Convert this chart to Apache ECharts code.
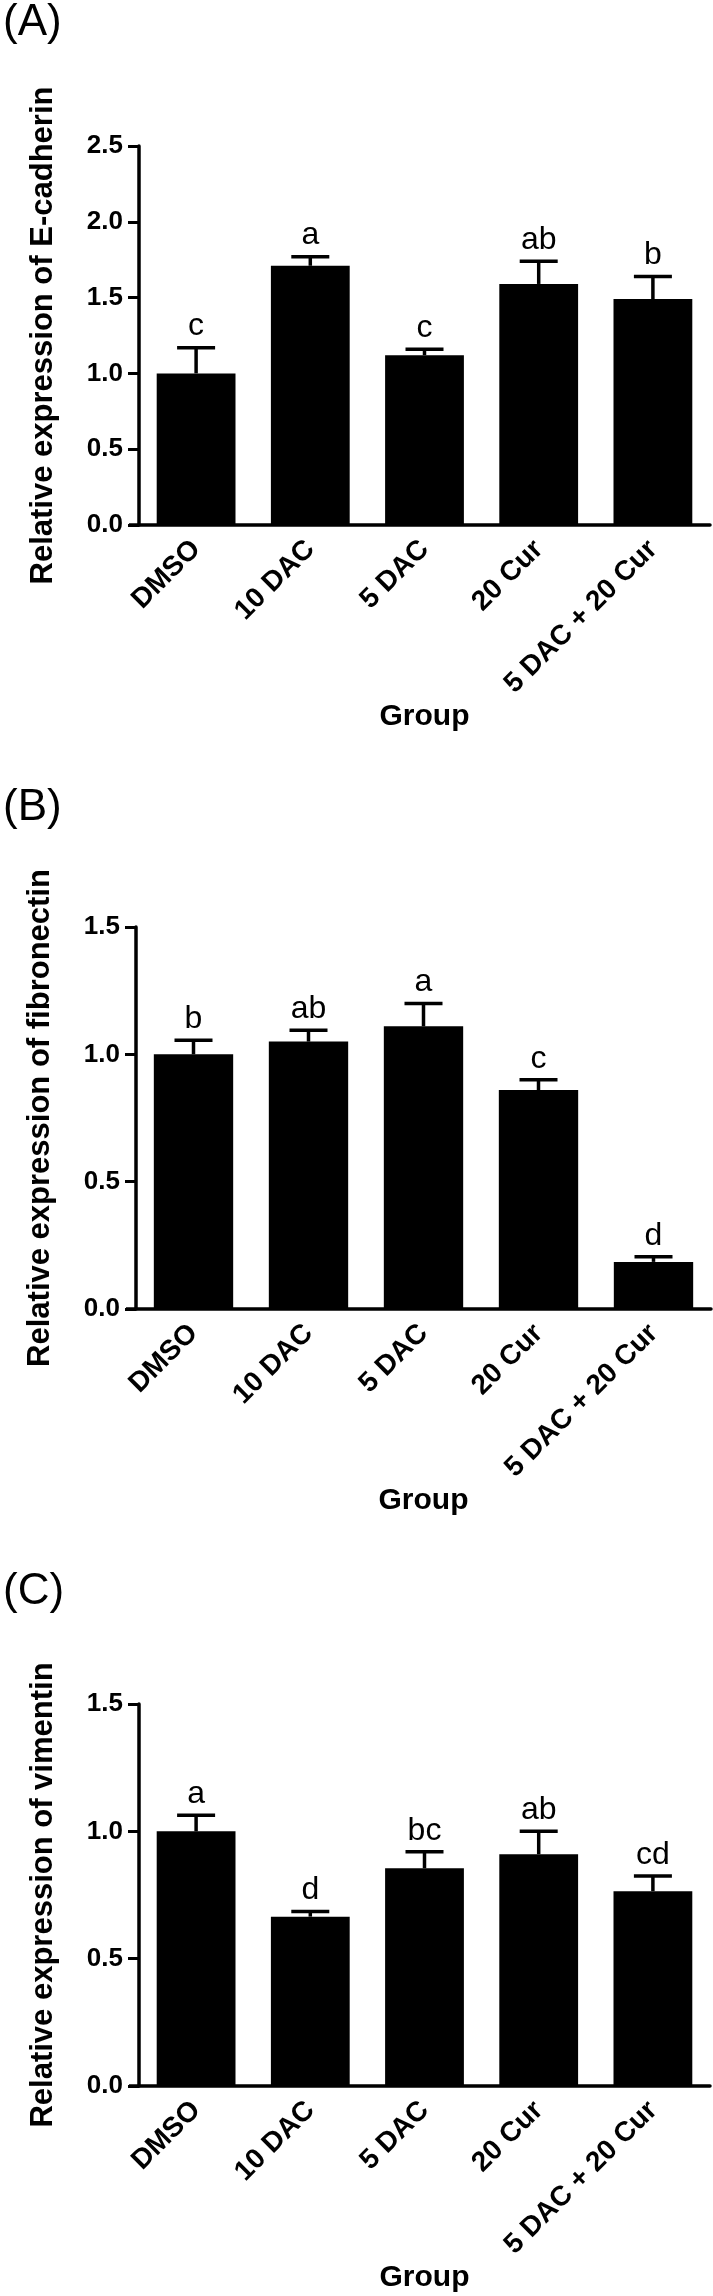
<!DOCTYPE html>
<html>
<head>
<meta charset="utf-8">
<script src="https://cdn.jsdelivr.net/npm/echarts@6/dist/echarts.min.js"></script>
<style>
html,body{margin:0;padding:0;background:#fff;}
#chart{width:713px;height:2296px;}
</style>
</head>
<body>
<div id="chart"></div>
<script>
var categories = ['DMSO', '10 DAC', '5 DAC', '20 Cur', '5 DAC + 20 Cur'];

var ecadMean = [1.00, 1.71, 1.12, 1.59, 1.49];
var ecadErr = [0.17, 0.06, 0.04, 0.15, 0.15];
var ecadLetters = ['c', 'a', 'c', 'ab', 'b'];

var fibMean = [1.00, 1.05, 1.11, 0.86, 0.185];
var fibErr = [0.055, 0.045, 0.09, 0.04, 0.02];
var fibLetters = ['b', 'ab', 'a', 'c', 'd'];

var vimMean = [1.00, 0.665, 0.855, 0.91, 0.765];
var vimErr = [0.063, 0.02, 0.065, 0.09, 0.06];
var vimLetters = ['a', 'd', 'bc', 'ab', 'cd'];

var yMaxA = 2.5, yMaxB = 1.5, yMaxC = 1.5, yStep = 0.5;

var FONT = "'Liberation Sans', Arial, Helvetica, sans-serif";

var panels = [
  {label: '(A)', title: 'Relative expression of E-cadherin', mean: ecadMean, err: ecadErr, letters: ecadLetters, max: yMaxA,
   grid: {left: 139, top: 146, width: 571, height: 379}, labelTop: -4},
  {label: '(B)', title: 'Relative expression of fibronectin', mean: fibMean, err: fibErr, letters: fibLetters, max: yMaxB,
   grid: {left: 136, top: 927, width: 575, height: 382}, labelTop: 781},
  {label: '(C)', title: 'Relative expression of vimentin', mean: vimMean, err: vimErr, letters: vimLetters, max: yMaxC,
   grid: {left: 139, top: 1704, width: 571, height: 382}, labelTop: 1565}
];

var option = {
  backgroundColor: '#fff',
  animation: false,
  title: [], grid: [], xAxis: [], yAxis: [], series: []
};

panels.forEach(function (p, i) {
  option.title.push({
    text: p.label, left: -2, top: p.labelTop,
    textStyle: {fontFamily: FONT, fontWeight: 'normal', fontSize: 44, color: '#000'}
  });
  option.grid.push(p.grid);
  option.xAxis.push({
    type: 'category', gridIndex: i, data: categories,
    axisLine: {lineStyle: {color: '#000', width: 3.5}},
    axisTick: {alignWithLabel: true, length: 11, lineStyle: {color: '#000', width: 3}},
    axisLabel: {rotate: 45, interval: 0, margin: 20, color: '#000', fontFamily: FONT, fontWeight: 'bold', fontSize: 28},
    name: 'Group', nameLocation: 'middle', nameGap: 176,
    nameTextStyle: {color: '#000', fontFamily: FONT, fontWeight: 'bold', fontSize: 30}
  });
  option.yAxis.push({
    type: 'value', gridIndex: i, min: 0, max: p.max, interval: yStep,
    axisLine: {show: true, lineStyle: {color: '#000', width: 3.5}},
    axisTick: {show: true, length: 11, lineStyle: {color: '#000', width: 3}},
    splitLine: {show: false},
    axisLabel: {margin: 16, color: '#000', fontFamily: FONT, fontWeight: 'bold', fontSize: 26,
      formatter: function (v) { return v.toFixed(1); }},
    name: p.title, nameLocation: 'middle', nameGap: 80,
    nameTextStyle: {color: '#000', fontFamily: FONT, fontWeight: 'bold', fontSize: 31}
  });
  option.series.push({
    type: 'bar', xAxisIndex: i, yAxisIndex: i, data: p.mean, barWidth: '69%',
    itemStyle: {color: '#000'}, z: 2
  });
  var errData = p.mean.map(function (m, k) { return [k, m, p.err[k]]; });
  (function (letters) {
    option.series.push({
      type: 'custom', xAxisIndex: i, yAxisIndex: i, data: errData, z: 3,
      renderItem: function (params, api) {
        var x = api.value(0), m = api.value(1), e = api.value(2);
        var p0 = api.coord([x, m]);
        var p1 = api.coord([x, m + e]);
        var half = 19;
        return {
          type: 'group',
          children: [
            {type: 'line', shape: {x1: p0[0], y1: p0[1], x2: p1[0], y2: p1[1]}, style: {stroke: '#000', lineWidth: 3.5}},
            {type: 'line', shape: {x1: p1[0] - half, y1: p1[1], x2: p1[0] + half, y2: p1[1]}, style: {stroke: '#000', lineWidth: 3.5}},
            {type: 'text', style: {text: letters[params.dataIndex], x: p1[0], y: p1[1] - 5,
              align: 'center', verticalAlign: 'bottom', fill: '#000',
              font: 'normal 32px ' + FONT}}
          ]
        };
      }
    });
  })(p.letters);
});

var chart = echarts.init(document.getElementById('chart'), null, {renderer: 'canvas'});
chart.setOption(option);

// short extension of each x-axis line to the left of the y-axis (GraphPad style)
var ext = [];
panels.forEach(function (p, i) {
  var o = chart.convertToPixel({gridIndex: i}, [0, 0]);
  var g = chart.getModel().getComponent('grid', i).coordinateSystem.getRect();
  ext.push({type: 'line', shape: {x1: g.x - 10, y1: g.y + g.height, x2: g.x, y2: g.y + g.height},
    style: {stroke: '#000', lineWidth: 3.5}, z: 10});
});
chart.setOption({graphic: ext});
</script>
</body>
</html>
